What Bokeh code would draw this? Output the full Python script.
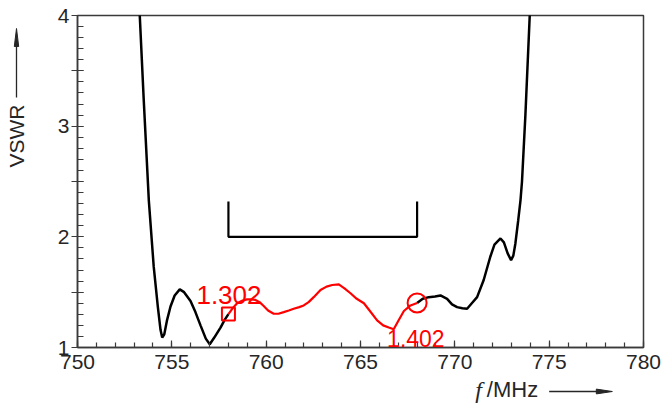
from bokeh.plotting import figure
from bokeh.layouts import row, column
from bokeh.models import FixedTicker, Label, Range1d
from bokeh.embed import file_html
from bokeh.resources import INLINE

# ---------------- data ----------------
freq_low = [753.20, 753.30, 753.51, 753.78, 754.04, 754.26, 754.40, 754.49, 754.60, 754.75,
            754.93, 755.15, 755.42, 755.65, 755.99, 756.25, 756.52, 756.80, 757.01, 757.25,
            757.58, 757.80, 758.00]
vswr_low = [4.40, 4.00, 3.24, 2.33, 1.73, 1.365, 1.16, 1.09, 1.12, 1.25,
            1.37, 1.47, 1.525, 1.50, 1.42, 1.32, 1.20, 1.08, 1.03, 1.09,
            1.18, 1.25, 1.302]

freq_band = [758.00, 758.20, 758.46, 758.75, 758.99, 759.20, 759.43, 759.65, 759.87, 760.10,
             760.40, 760.65, 760.93, 761.20, 761.46, 761.75, 761.99, 762.25, 762.52, 762.88,
             763.20, 763.50, 763.85, 764.15, 764.47, 764.80, 765.18, 765.50, 765.88, 766.20,
             766.50, 766.76, 767.00, 767.30, 767.65, 768.00]
vswr_band = [1.302, 1.35, 1.40, 1.425, 1.435, 1.435, 1.43, 1.41, 1.375, 1.335,
             1.305, 1.305, 1.32, 1.335, 1.35, 1.365, 1.38, 1.41, 1.455, 1.52,
             1.55, 1.565, 1.57, 1.535, 1.49, 1.44, 1.40, 1.33, 1.245, 1.20,
             1.18, 1.165, 1.24, 1.33, 1.38, 1.402]

freq_high = [768.00, 768.30, 768.62, 768.95, 769.24, 769.59, 769.85, 770.12, 770.40, 770.65,
             770.90, 771.18, 771.53, 771.88, 772.10, 772.42, 772.60, 772.80, 772.98, 773.10,
             773.21, 773.36, 773.48, 773.56, 773.74, 773.97, 774.05]
vswr_high = [1.402, 1.44, 1.455, 1.46, 1.47, 1.44, 1.39, 1.365, 1.355, 1.35,
             1.40, 1.455, 1.61, 1.82, 1.93, 1.985, 1.95, 1.85, 1.79, 1.83,
             1.94, 2.15, 2.33, 2.50, 3.10, 4.00, 4.30]

band_edges = [758, 768]
spec_vswr = 2.0
spec_cap = 2.32

marker_freq = [758, 768]
marker_vswr = [1.302, 1.402]
marker_text = ["1.302", "1.402"]

x_major = [750, 755, 760, 765, 770, 775, 780]
x_minor = list(range(750, 781))
y_major = [1, 1.5, 2, 2.5, 3, 3.5, 4]
y_minor = [round(1 + 0.1 * i, 1) for i in range(31)]
y_hidden = [1.5, 2.5, 3.5]

y_title = "VSWR"
x_title_sym = "f"
x_title_unit = "/MHz"

X0, X1, Y0, Y1 = 750, 780, 1, 4

# ---------------- page geometry (px) ----------------
W, H = 666, 407
LEFT_W = 30          # strip holding the y title
MAIN_H = 374         # main figure height; the strip below holds the x title
FL, FR, FT, FB = 77, 643, 15, 347   # frame edges on the page

frame_col = "#3a3a3a"
lab_col = "#262626"
RED = "#ff0000"


def strip(width, height):
    f = figure(width=width, height=height, x_range=Range1d(0, width), y_range=Range1d(0, height),
               output_backend="svg", toolbar_location=None,
               x_axis_location=None, y_axis_location=None,
               min_border=0, min_border_left=0, min_border_right=0,
               min_border_top=0, min_border_bottom=0)
    f.grid.visible = False
    f.outline_line_color = None
    f.background_fill_color = "white"
    f.border_fill_color = "white"
    return f


# ---------------- main figure ----------------
p = figure(width=W - LEFT_W, height=MAIN_H, x_range=Range1d(X0, X1), y_range=Range1d(Y0, Y1),
           output_backend="svg", toolbar_location=None,
           min_border_left=FL - LEFT_W, min_border_right=W - FR,
           min_border_top=FT, min_border_bottom=MAIN_H - FB)

p.grid.visible = False
p.background_fill_color = "white"
p.border_fill_color = "white"
p.outline_line_color = frame_col
p.outline_line_width = 1.5

xa = p.xaxis[0]
xa.ticker = FixedTicker(ticks=x_major, minor_ticks=x_minor)
xa.axis_line_color = frame_col
xa.axis_line_width = 1.5
xa.major_tick_in = 7
xa.major_tick_out = 0
xa.minor_tick_in = 5
xa.minor_tick_out = 0
xa.major_tick_line_color = frame_col
xa.minor_tick_line_color = frame_col
xa.major_tick_line_width = 1.2
xa.minor_tick_line_width = 1.2
xa.major_label_text_font = "Liberation Sans"
xa.major_label_text_font_size = "21px"
xa.major_label_text_color = lab_col
xa.major_label_standoff = 7

ya = p.yaxis[0]
ya.ticker = FixedTicker(ticks=y_major, minor_ticks=y_minor)
ya.axis_line_color = frame_col
ya.axis_line_width = 1.5
ya.major_tick_in = 6
ya.major_tick_out = 6
ya.minor_tick_in = 6
ya.minor_tick_out = 0
ya.major_tick_line_color = frame_col
ya.minor_tick_line_color = frame_col
ya.major_tick_line_width = 1.2
ya.minor_tick_line_width = 1.2
ya.major_label_text_font = "Liberation Sans"
ya.major_label_text_font_size = "21px"
ya.major_label_text_color = lab_col
ya.major_label_standoff = 2
ya.major_label_overrides = {v: "" for v in y_hidden}

# curves
p.line(freq_low, vswr_low, line_color="black", line_width=2.5)
p.line(freq_high, vswr_high, line_color="black", line_width=2.5)
p.line(freq_band, vswr_band, line_color=RED, line_width=2.2)

# band bracket
p.line([band_edges[0], band_edges[0], band_edges[1], band_edges[1]],
       [spec_cap, spec_vswr, spec_vswr, spec_cap], line_color="black", line_width=2.2)

# markers
p.scatter([marker_freq[0]], [marker_vswr[0]], marker="square", size=13,
          fill_color=None, line_color=RED, line_width=2)
p.scatter([marker_freq[1]], [marker_vswr[1]], marker="circle", size=19,
          fill_color=None, line_color=RED, line_width=2)

p.add_layout(Label(x=marker_freq[0], y=marker_vswr[0], text=marker_text[0],
                   x_offset=-32, y_offset=19, text_font="Liberation Sans",
                   text_font_size="26px", text_color=RED,
                   text_baseline="alphabetic", text_align="left"))
p.add_layout(Label(x=marker_freq[1], y=marker_vswr[1], text=marker_text[1],
                   x_offset=-30, y_offset=-35, text_font="Liberation Sans",
                   text_font_size="23px", text_color=RED,
                   text_baseline="alphabetic", text_align="left"))

# ---------------- y title strip (x = page px, y = page px from bottom) ----------------
ls = strip(LEFT_W, H)
ls.add_layout(Label(x=16, y=H - 167, text=y_title, angle=90, angle_units="deg",
                    text_font="Liberation Sans", text_font_size="21px",
                    text_color=lab_col, text_align="left", text_baseline="middle"))
ls.segment(x0=[16], y0=[H - 97], x1=[16], y1=[H - 44], line_color=lab_col, line_width=1.3)
ls.patch(x=[16, 13.8, 18.2], y=[H - 28, H - 46, H - 46], fill_color=lab_col,
         line_color=lab_col, line_width=1)

# ---------------- x title strip (x = page px - LEFT_W, y = page px from bottom) ----------------
bs = strip(W - LEFT_W, H - MAIN_H)
bs.add_layout(Label(x=477 - LEFT_W, y=H - 389, text=x_title_sym, text_font="Liberation Serif",
                    text_font_style="italic", text_font_size="24px",
                    text_color=lab_col, text_align="left", text_baseline="middle"))
bs.add_layout(Label(x=490 - LEFT_W, y=H - 389, text=x_title_unit, text_font="Liberation Sans",
                    text_font_size="22px", text_color=lab_col,
                    text_align="left", text_baseline="middle"))
bs.segment(x0=[560 - LEFT_W], y0=[H - 391], x1=[615 - LEFT_W], y1=[H - 391],
           line_color=lab_col, line_width=1.3)
bs.patch(x=[631 - LEFT_W, 613 - LEFT_W, 613 - LEFT_W], y=[H - 391, H - 388.6, H - 393.4],
         fill_color=lab_col, line_color=lab_col, line_width=1)

layout = row(ls, column(p, bs))

open("out.html", "w").write(file_html(layout, INLINE))
